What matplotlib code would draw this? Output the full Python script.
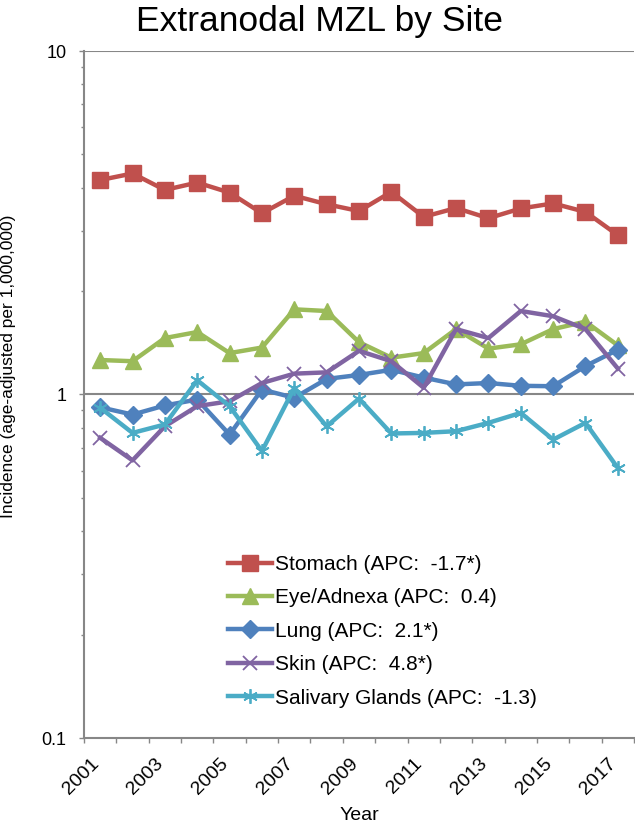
import matplotlib
matplotlib.use("Agg")
import matplotlib.pyplot as plt
import matplotlib.transforms as mtransforms
from matplotlib.ticker import FixedLocator, NullFormatter, FuncFormatter, LogLocator

plt.rcParams['font.family'] = ['Liberation Sans', 'DejaVu Sans']

years = list(range(2001, 2018))
stomach = [4.21, 4.40, 3.94, 4.14, 3.87, 3.37, 3.79, 3.58, 3.42, 3.89, 3.29, 3.49, 3.26, 3.48, 3.60, 3.40, 2.91]
eye = [1.26, 1.25, 1.46, 1.52, 1.32, 1.37, 1.77, 1.75, 1.42, 1.28, 1.32, 1.55, 1.36, 1.40, 1.55, 1.63, 1.39]
lung = [0.918, 0.874, 0.929, 0.967, 0.764, 1.034, 0.978, 1.11, 1.14, 1.18, 1.12, 1.07, 1.08, 1.06, 1.057, 1.21, 1.35]
skin = [0.748, 0.643, 0.808, 0.925, 0.956, 1.08, 1.15, 1.16, 1.34, 1.25, 1.046, 1.55, 1.46, 1.75, 1.69, 1.55, 1.19]
salivary = [0.915, 0.773, 0.818, 1.10, 0.925, 0.684, 1.046, 0.808, 0.973, 0.770, 0.773, 0.782, 0.827, 0.884, 0.739, 0.827, 0.611]

labels = ["Stomach (APC:  -1.7*)", "Eye/Adnexa (APC:  0.4)", "Lung (APC:  2.1*)",
          "Skin (APC:  4.8*)", "Salivary Glands (APC:  -1.3)"]
colors = ["#C0504D", "#9BBB59", "#4F81BD", "#8064A2", "#4BACC6"]

fig = plt.figure(figsize=(6.35, 8.3), dpi=100)
ax = fig.add_axes([84/635, 1-738/830, 550/635, (738-51)/830])

x = list(range(len(years)))
series = [stomach, eye, lung, skin, salivary]
markers = ['s', '^', 'D', 'x', (6, 2, 0)]
msizes = [11, 11, 9, 9.5, 10.5]
mews = [1, 1, 1, 1.3, 1.3]
for vals, lab, col, m, ms, mew in zip(series, labels, colors, markers, msizes, mews):
    ax.plot(x, vals, color=col, lw=3.2, marker=m, markersize=ms,
            markeredgecolor=col, markerfacecolor=col, markeredgewidth=mew,
            label=lab, zorder=3)

ax.set_yscale('log')
ax.set_ylim(0.1, 10)
ax.set_xlim(-0.5, len(years) - 0.5)

ax.yaxis.set_major_locator(FixedLocator([0.1, 1, 10]))
ax.yaxis.set_major_formatter(FuncFormatter(lambda v, p: {0.1: '0.1', 1: '1', 10: '10'}.get(round(v, 3), '')))
ax.yaxis.set_minor_locator(LogLocator(base=10, subs=range(2, 10)))
ax.yaxis.set_minor_formatter(NullFormatter())
ax.tick_params(axis='y', which='major', length=3.6, width=1, color='#878787', labelsize=13, pad=9, direction='out')
ax.tick_params(axis='y', which='minor', length=2.2, width=1, color='#878787', direction='out')

bounds = [i - 0.5 for i in range(len(years) + 1)]
ax.xaxis.set_major_locator(FixedLocator(bounds))
ax.xaxis.set_major_formatter(NullFormatter())
ax.xaxis.set_minor_locator(FixedLocator(x[::2]))
ax.xaxis.set_minor_formatter(FuncFormatter(lambda v, p: str(years[int(round(v))])))
ax.tick_params(axis='x', which='major', length=3.6, width=1, color='#878787', direction='out')
ax.tick_params(axis='x', which='minor', length=0, labelsize=14, pad=12)
shift = mtransforms.ScaledTranslation(2/100, 0, fig.dpi_scale_trans)
for t in ax.xaxis.get_minorticklabels():
    t.set_rotation(45)
    t.set_ha('right')
    t.set_va('top')
    t.set_transform(t.get_transform() + shift)

ax.grid(False)
for yv in [1, 10]:
    ax.axhline(yv, color='#878787', lw=1.5, zorder=1)

for s in ['top', 'right']:
    ax.spines[s].set_visible(False)
for s in ['left', 'bottom']:
    ax.spines[s].set_color('#878787')
    ax.spines[s].set_linewidth(1.5)

fig.text(320/635, 1-22/830, "Extranodal MZL by Site", ha='center', va='center', fontsize=25.5)
fig.text(9/635, 1-366/830, "Incidence (age-adjusted per 1,000,000)", rotation=90,
         ha='center', va='center', fontsize=12.5)
fig.text(359/635, 1-815/830, "Year", ha='center', va='center', fontsize=14)

leg = ax.legend(loc='upper left', bbox_to_anchor=(228/635, 1-555/830),
                bbox_transform=fig.transFigure, frameon=False, fontsize=15,
                handlelength=2.1, handletextpad=0.15, labelspacing=0.69,
                borderpad=0, borderaxespad=0)

fig.savefig("out.png", dpi=100)
